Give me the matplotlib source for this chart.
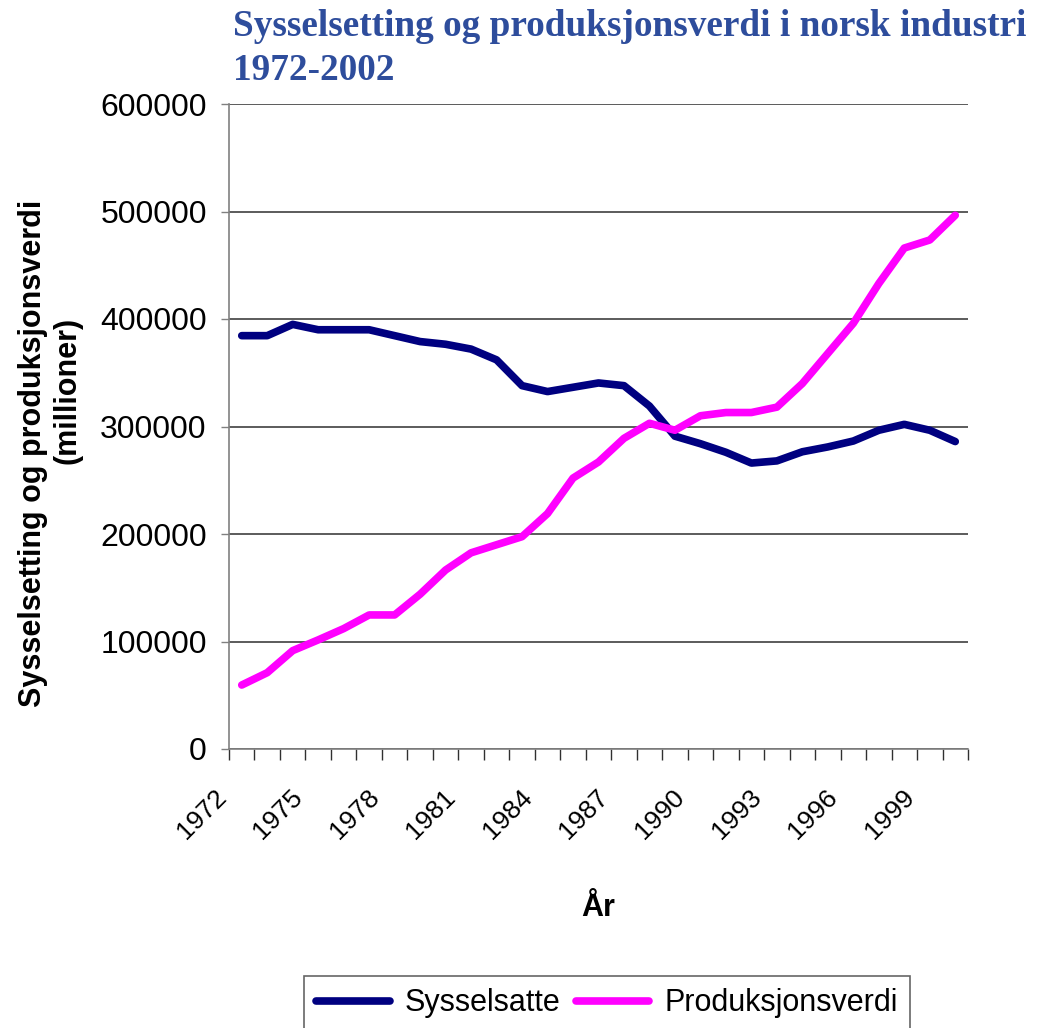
import matplotlib
matplotlib.use("Agg")
import matplotlib.pyplot as plt
from matplotlib.transforms import ScaledTranslation
import numpy as np

# Sysselsetting og produksjonsverdi i norsk industri
aar = list(range(1972, 2001))
sysselsatte = [384500, 384500, 395000, 390000, 390000, 390000, 384500, 379000, 376500,
               372000, 362000, 338000, 332500, 336500, 340500, 338000, 319000, 291000,
               284000, 276000, 266000, 268000, 276500, 281000, 286500, 296500, 302000,
               296500, 286000]
produksjonsverdi = [59500, 71000, 91500, 101500, 112000, 124700, 124700, 144000, 166500,
                    182500, 190000, 197500, 219000, 252000, 267000, 289000, 303000, 296500,
                    310000, 313000, 313000, 318000, 340000, 368000, 396000, 433000, 466000,
                    473500, 496500]
tick_labels = [str(a) if (a - 1972) % 3 == 0 else "" for a in aar]

W, H = 1039, 1028
fig = plt.figure(figsize=(W / 100, H / 100), dpi=100)
ax = fig.add_axes([229 / W, 1 - 749 / H, (968 - 229) / W, (749 - 104) / H])

x = np.arange(len(aar))
ax.plot(x, sysselsatte, color="#000080", lw=5.5, label="Sysselsatte", solid_capstyle="round")
ax.plot(x, produksjonsverdi, color="#FF00FF", lw=5.5, label="Produksjonsverdi", solid_capstyle="round")

ax.set_xlim(-0.5, len(aar) - 0.5)
ax.set_ylim(0, 600000)
ax.set_yticks(np.arange(0, 600001, 100000))
ax.set_yticklabels([str(v) for v in range(0, 600001, 100000)], fontsize=23, family="Liberation Sans")
ax.tick_params(axis="y", length=6, width=1, color="#808080", pad=10)
ax.grid(axis="y", color="#404040", lw=1.2)
ax.set_axisbelow(True)

ax.set_xticks(x)
ax.set_xticklabels(tick_labels, rotation=45, ha="right", va="top", rotation_mode="anchor",
                   fontsize=19, family="Liberation Sans")
ax.tick_params(axis="x", which="major", length=0, pad=26)
ax.set_xticks(np.arange(-0.5, len(aar)), minor=True)
ax.tick_params(axis="x", which="minor", length=8, width=1, color="#303030")
# labels sit a bit left of the category centre
flytt = ScaledTranslation(-28 / 100, 0, fig.dpi_scale_trans)
for lbl in ax.get_xticklabels():
    lbl.set_transform(lbl.get_transform() + flytt)

for s in ["top", "right"]:
    ax.spines[s].set_visible(False)
for s in ["left", "bottom"]:
    ax.spines[s].set_color("#808080")
    ax.spines[s].set_linewidth(1.2)

fig.text(233 / W, 1 - 36 / H, "Sysselsetting og produksjonsverdi i norsk industri",
         color="#2E4D9C", fontsize=26.8, fontweight="bold", family="Liberation Serif",
         ha="left", va="baseline")
fig.text(233 / W, 1 - 80 / H, "1972-2002",
         color="#2E4D9C", fontsize=26.8, fontweight="bold", family="Liberation Serif",
         ha="left", va="baseline")

fig.text(33 / W, 1 - 453 / H, "Sysselsetting og produksjonsverdi", rotation=90,
         fontsize=22, fontweight="bold", family="Liberation Sans", ha="center", va="center")
fig.text(67 / W, 1 - 390 / H, "(millioner)", rotation=90,
         fontsize=22, fontweight="bold", family="Liberation Sans", ha="center", va="center")
fig.text(598 / W, 1 - 908 / H, "År", fontsize=22, fontweight="bold",
         family="Liberation Sans", ha="center", va="center")

leg = fig.legend(loc="upper left", bbox_to_anchor=(304 / W, 1 - 976 / H), ncol=2,
                 frameon=True, fancybox=False, prop={"family": "Liberation Sans", "size": 22},
                 handlelength=2.4, columnspacing=0.5, handletextpad=0.5, borderpad=0.4,
                 borderaxespad=0)
leg.get_frame().set_edgecolor("#404040")
leg.get_frame().set_linewidth(1.2)

fig.savefig("out.png", dpi=100)
